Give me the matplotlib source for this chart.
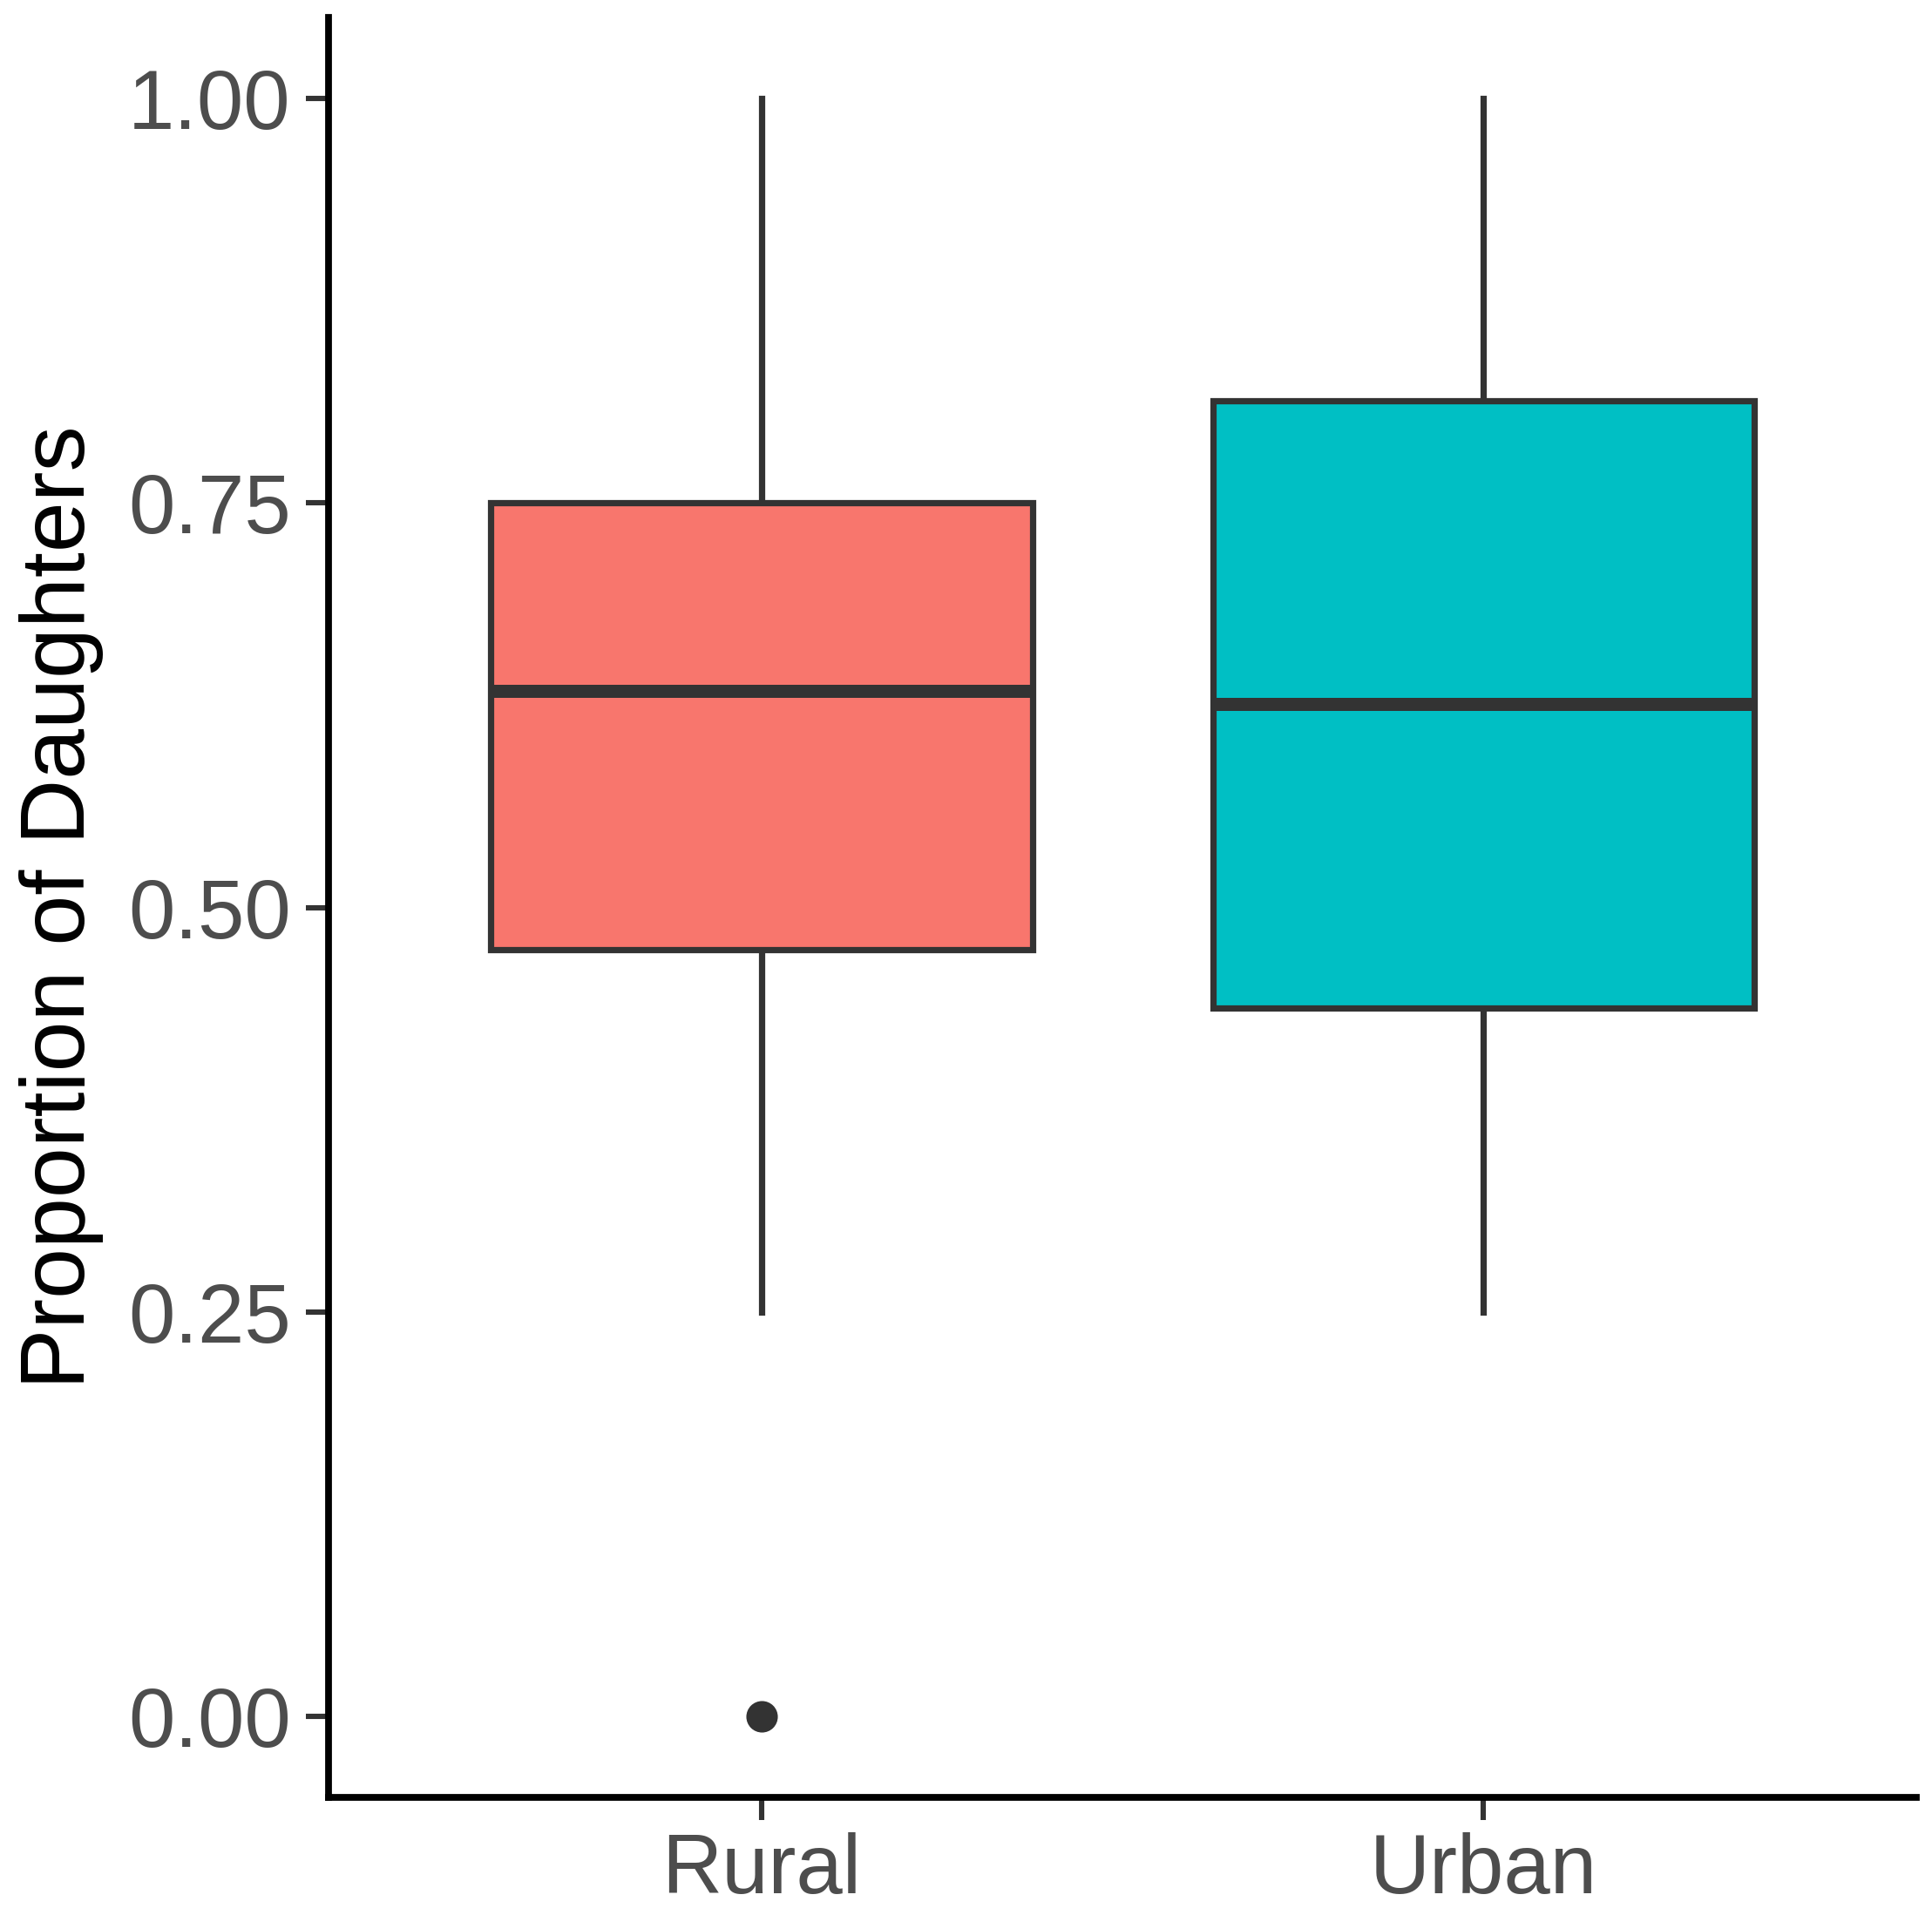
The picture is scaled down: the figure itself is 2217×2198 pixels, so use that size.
import matplotlib
matplotlib.use("Agg")
import matplotlib.pyplot as plt

# Data
categories = ["Rural", "Urban"]
whisker_low = [0.25, 0.25]
q1 = [0.474, 0.438]
median = [0.634, 0.626]
q3 = [0.75, 0.813]
whisker_high = [1.00, 1.00]
outliers = [[0.0], []]
fill_colors = ["#F8766D", "#00BFC4"]
y_ticks = [0.00, 0.25, 0.50, 0.75, 1.00]
y_tick_labels = ["0.00", "0.25", "0.50", "0.75", "1.00"]

plt.rcParams['font.family'] = ['Liberation Sans', 'DejaVu Sans']

fig = plt.figure(figsize=(2217/200, 2198/200), dpi=200)
ax = fig.add_axes([0.170, 0.0614, 0.822, 0.9295])

stats = []
for i, c in enumerate(categories):
    stats.append(dict(label=c, whislo=whisker_low[i], q1=q1[i], med=median[i],
                      q3=q3[i], whishi=whisker_high[i], fliers=outliers[i]))

edge = "#333333"
bp = ax.bxp(stats, positions=[1, 2], widths=0.75, patch_artist=True, showcaps=False,
            boxprops=dict(edgecolor=edge, linewidth=2.6),
            whiskerprops=dict(color=edge, linewidth=2.6),
            medianprops=dict(color=edge, linewidth=5.4, solid_capstyle='butt'),
            flierprops=dict(marker='o', markerfacecolor=edge, markeredgecolor=edge,
                            markersize=12, linestyle='none'))
for patch, col in zip(bp['boxes'], fill_colors):
    patch.set_facecolor(col)
    patch.set_zorder(2)
for w in bp['whiskers']:
    w.set_zorder(1)

ax.set_xlim(0.4, 2.6)
ax.set_ylim(-0.05, 1.05)
ax.set_xticks([1, 2])
ax.set_xticklabels(categories)
ax.set_yticks(y_ticks)
ax.set_yticklabels(y_tick_labels)

for s in ['top', 'right']:
    ax.spines[s].set_visible(False)
for s in ['left', 'bottom']:
    ax.spines[s].set_linewidth(2.8)
    ax.spines[s].set_color('black')

ax.tick_params(axis='both', length=9.5, width=2.2, color=edge, labelsize=34.5,
               labelcolor="#4D4D4D", pad=6)
ax.tick_params(axis='x', pad=5)
ax.set_ylabel("Proportion of Daughters", fontsize=37.5, color="black", labelpad=10)
ax.set_xlabel("")

fig.savefig("out.png", dpi=200, facecolor="white")
